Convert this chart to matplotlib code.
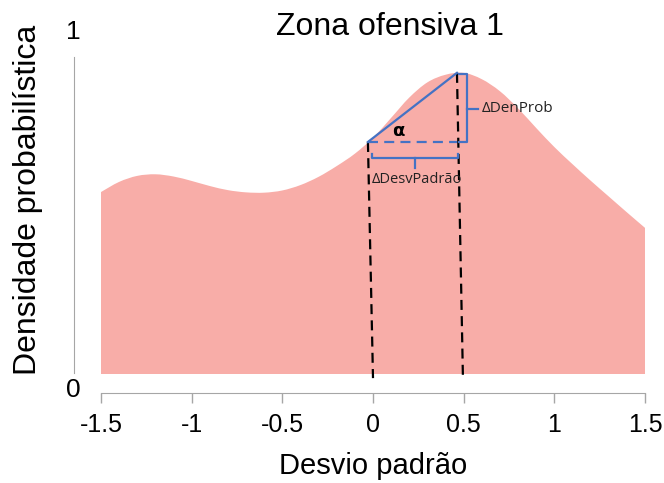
import numpy as np
import matplotlib
matplotlib.use("Agg")
import matplotlib.pyplot as plt
from matplotlib.path import Path
from matplotlib.patches import PathPatch

plt.rcParams["font.family"] = ["Liberation Sans", "DejaVu Sans"]

# 密度曲線（横軸：標準偏差，縦軸：確率密度）を0.1刻みで読んだ値
desvio = [-1.5, -1.4, -1.3, -1.2, -1.1, -1.0, -0.9, -0.8, -0.7, -0.6, -0.5,
          -0.4, -0.3, -0.2, -0.1, 0.0, 0.1, 0.2, 0.3, 0.4, 0.5,
          0.6, 0.7, 0.8, 0.9, 1.0, 1.1, 1.2, 1.3, 1.4, 1.5]
densidade = [0.574, 0.606, 0.625, 0.630, 0.623, 0.609, 0.593, 0.580, 0.573, 0.572, 0.579,
             0.596, 0.622, 0.656, 0.695, 0.745, 0.808, 0.872, 0.920, 0.944, 0.950,
             0.930, 0.892, 0.838, 0.776, 0.716, 0.662, 0.610, 0.560, 0.510, 0.461]

x_ticks = [-1.5, -1, -0.5, 0, 0.5, 1, 1.5]
x_ticklabels = ["-1.5", "-1", "-0.5", "0", "0.5", "1", "1.5"]

# 傾きを示す区間（始点と終点）
x_inicio, x_fim = -0.028, 0.463
d_inicio, d_fim = 0.732, 0.950

fill_color = "#F8ADA8"
blue = "#4472C4"
gray = "#A6A6A6"


def smooth_area_path(xs, ys):
    # Catmull-Romの接線で3次ベジェをつなぎ，下端(y=0)で閉じる
    xs = np.asarray(xs, dtype=float)
    ys = np.asarray(ys, dtype=float)
    n = len(xs)
    verts = [(xs[0], 0.0), (xs[0], ys[0])]
    codes = [Path.MOVETO, Path.LINETO]
    for i in range(n - 1):
        i0 = max(i - 1, 0)
        i3 = min(i + 2, n - 1)
        c1 = (xs[i] + (xs[i + 1] - xs[i0]) / 6, ys[i] + (ys[i + 1] - ys[i0]) / 6)
        c2 = (xs[i + 1] - (xs[i3] - xs[i]) / 6, ys[i + 1] - (ys[i3] - ys[i]) / 6)
        verts += [c1, c2, (xs[i + 1], ys[i + 1])]
        codes += [Path.CURVE4] * 3
    verts += [(xs[-1], 0.0), (xs[0], 0.0)]
    codes += [Path.LINETO, Path.CLOSEPOLY]
    return Path(verts, codes)


fig = plt.figure(figsize=(6.64, 4.83), dpi=100)
ax = fig.add_axes([101 / 664, 1 - 374 / 483, 544 / 664, 317 / 483])
ax.set_xlim(-1.5, 1.5)
ax.set_ylim(0, 1)

ax.add_patch(PathPatch(smooth_area_path(desvio, densidade), facecolor=fill_color, lw=0))

# 軸はRのbase plot風に，少し離して描く
for side in ["top", "right"]:
    ax.spines[side].set_visible(False)
ax.spines["bottom"].set_position(("data", -0.06))
ax.spines["bottom"].set_bounds(-1.5, 1.5)
ax.spines["bottom"].set_color(gray)
ax.spines["left"].set_position(("data", -1.65))
ax.spines["left"].set_bounds(0.003, 1.0)
ax.spines["left"].set_color(gray)
ax.set_yticks([])
ax.set_xticks(x_ticks)
ax.set_xticklabels(x_ticklabels)
ax.tick_params(axis="x", length=7.5, width=1, color=gray, pad=7, labelsize=18)

ax.text(-1.655, 1.08, "1", ha="center", va="center", fontsize=19)
ax.text(-1.655, -0.05, "0", ha="center", va="center", fontsize=19)

fig.text(390 / 664, 1 - 27 / 483, "Zona ofensiva 1", ha="center", va="center", fontsize=23)
fig.text(28 / 664, 1 - 200 / 483, "Densidade probabilística", ha="center", va="center",
         rotation=90, fontsize=23)
fig.text(373 / 664, 1 - 466 / 483, "Desvio padrão", ha="center", va="center", fontsize=21)

# 縦の破線（0 と 0.5）
dash_k = dict(color="black", lw=1.6, dashes=(4.5, 2.8), clip_on=False)
ax.plot([x_inicio, 0.0], [d_inicio, -0.013], **dash_k)
ax.plot([x_fim, 0.496], [d_fim, -0.013], **dash_k)

# 傾き（α）の三角形
ax.plot([x_inicio, x_fim], [d_inicio, d_fim], color=blue, lw=1.6)
ax.plot([x_inicio, x_fim], [d_inicio, d_inicio], color=blue, lw=1.6, dashes=(4.5, 2.8))
ax.text(0.138, 0.767, "α", ha="center", va="center", fontsize=13, fontweight="bold",
        family=["DejaVu Sans"])

# ΔDenProb の括弧
xb = 0.518
ax.plot([0.474, xb, xb, 0.474], [0.947, 0.947, d_inicio, d_inicio], color=blue, lw=1.6)
ax.plot([xb, 0.579], [0.836, 0.836], color=blue, lw=1.6)
ax.text(0.600, 0.836, "ΔDenProb", ha="left", va="center", fontsize=11,
        family=["Open Sans", "DejaVu Sans"], color="#222222")

# ΔDesvPadrão の括弧
yb = 0.681
ax.plot([-0.006, -0.006, 0.469, 0.469], [0.694, yb, yb, 0.694], color=blue, lw=1.6)
ax.plot([0.232, 0.232], [yb, 0.650], color=blue, lw=1.6)
ax.text(-0.006, 0.612, "ΔDesvPadrão", ha="left", va="center", fontsize=10.5,
        family=["Open Sans", "DejaVu Sans"], color="#222222")

fig.savefig("out.png", dpi=100)
